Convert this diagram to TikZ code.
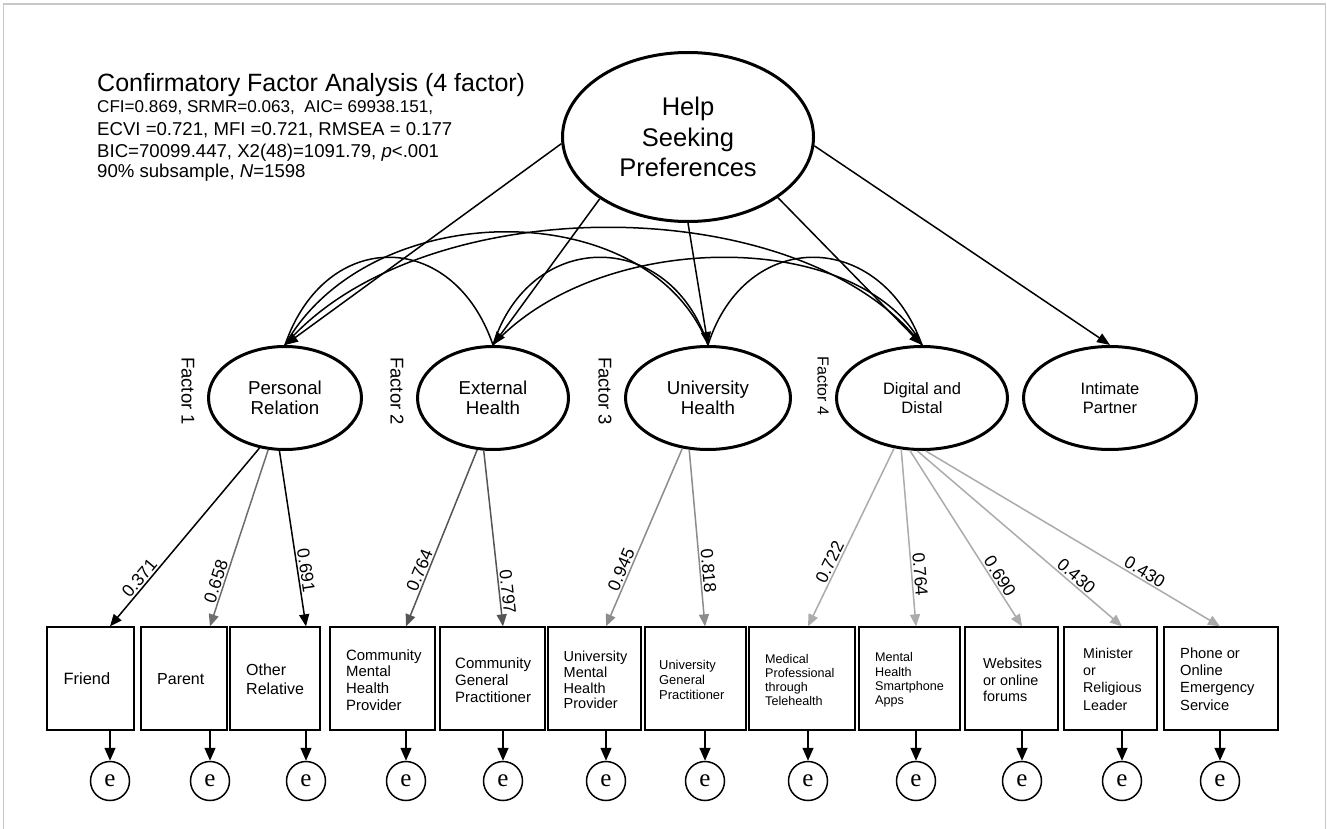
\documentclass[tikz,border=0pt]{standalone}
\usepackage{fontspec}
\setmainfont{Liberation Sans}
\newfontfamily\serifE{Liberation Serif}
\usetikzlibrary{arrows.meta,shapes.geometric}
\definecolor{frameg}{HTML}{C8C8C8}
\definecolor{ld1}{HTML}{6E6E6E}
\definecolor{ld2}{HTML}{555555}
\definecolor{ld3}{HTML}{8C8C8C}
\definecolor{ld4}{HTML}{ABABAB}
\newcommand{\fs}[2]{\fontsize{#1}{#2}\selectfont}
\tikzset{
  lat/.style={ellipse, draw, line width=3pt, inner sep=0pt, align=center},
  obsbox/.style={rectangle, draw, line width=1.3pt, minimum height=103pt, inner sep=0pt},
  boxtext/.style={anchor=west, align=left, inner sep=0pt},
  ecirc/.style={circle, draw, line width=1.5pt, minimum size=39pt, inner sep=0pt, font=\serifE\fs{25}{25}},
  path/.style={line width=1.5pt, -{Triangle[length=13pt,width=10pt]}},
  cov/.style={line width=1.5pt},
  load/.style={line width=1.5pt, -{Triangle[length=12pt,width=10pt]}},
  earr/.style={line width=1.5pt, -{Triangle[length=13pt,width=11pt]}},
  lab/.style={sloped, above, inner sep=1.5pt, font=\fs{17.5}{17.5}, text=black},
  factlab/.style={rotate=-90, inner sep=0pt},
  stat/.style={anchor=base west, inner sep=0pt}
}
\begin{document}
\begin{tikzpicture}[x=1pt,y=-1pt]
\useasboundingbox (0,0) rectangle (1327,829);
\draw[frameg, line width=1.2pt] (3.5,829) -- (3.5,4) -- (1325.5,4) -- (1325.5,829);

% title and statistics
\node[stat, font=\fs{25}{30}] (title) at (97,92) {Confirmatory Factor Analysis (4 factor)};
\node[stat, font=\fs{17.1}{20}] (s1) at (97,113) {CFI=0.869, SRMR=0.063,\ \ AIC= 69938.151,};
\node[stat, font=\fs{18.6}{20}] (s2) at (97,136) {ECVI =0.721, MFI =0.721, RMSEA = 0.177};
\node[stat, font=\fs{18.6}{20}] (s3) at (97,158) {BIC=70099.447, X2(48)=1091.79, \textit{p}<.001};
\node[stat, font=\fs{18.6}{20}] (s4) at (97,178) {90\% subsample, \textit{N}=1598};

% top latent
\node[lat, minimum width=251pt, minimum height=169pt, font=\fs{25.5}{30.5}] (help) at (688,137) {Help\\Seeking\\Preferences};

% factors
\node[lat, minimum width=153pt, minimum height=103pt, font=\fs{18.7}{20}] (pr) at (285,398) {Personal\\Relation};
\node[lat, minimum width=151pt, minimum height=103pt, font=\fs{18.7}{20}] (eh) at (493,398) {External\\Health};
\node[lat, minimum width=165pt, minimum height=103pt, font=\fs{18.7}{20}] (uh) at (708,398) {University\\Health};
\node[lat, minimum width=171pt, minimum height=103pt, font=\fs{16.5}{19}] (dd) at (922,398) {Digital and\\Distal};
\node[lat, minimum width=173pt, minimum height=103pt, font=\fs{16.5}{19}] (ip) at (1110,398) {Intimate\\Partner};

\node[factlab, font=\fs{18.5}{18.5}] (f1) at (188,391) {Factor 1};
\node[factlab, font=\fs{18.5}{18.5}] (f2) at (397,391) {Factor 2};
\node[factlab, font=\fs{18.5}{18.5}] (f3) at (605,391) {Factor 3};
\node[factlab, font=\fs{16}{16}] (f4) at (823,386) {Factor 4};

% covariances
\draw[cov] (pr.north) .. controls (325,228) and (453,228) .. (eh.north);
\draw[cov] (pr.north) .. controls (370,194) and (650,194) .. (uh.north);
\draw[cov] (pr.north) .. controls (420,188) and (800,188) .. (dd.north);
\draw[cov] (eh.north) .. controls (530,228) and (670,228) .. (uh.north);
\draw[cov] (eh.north) .. controls (600,228) and (860,228) .. (dd.north);
\draw[cov] (uh.north) .. controls (745,228) and (880,228) .. (dd.north);

% paths from help
\draw[path] (help.183.6) -- (pr.north);
\draw[path] (help.215) -- (eh.north);
\draw[path] (help.270) -- (uh.north);
\draw[path] (help.326) -- (dd.north);
\draw[path] (help.356.4) -- (ip.north);

% observed boxes
\node[obsbox, minimum width=87pt] (b1) at (90.5,678.5) {};
\node[obsbox, minimum width=86pt] (b2) at (184,678.5) {};
\node[obsbox, minimum width=90pt] (b3) at (275,678.5) {};
\node[obsbox, minimum width=105pt] (b4) at (382.5,678.5) {};
\node[obsbox, minimum width=105pt] (b5) at (492.5,678.5) {};
\node[obsbox, minimum width=93pt] (b6) at (594.5,678.5) {};
\node[obsbox, minimum width=101pt] (b7) at (695.5,678.5) {};
\node[obsbox, minimum width=106pt] (b8) at (802,678.5) {};
\node[obsbox, minimum width=101pt] (b9) at (909.5,678.5) {};
\node[obsbox, minimum width=93pt] (b10) at (1011.5,678.5) {};
\node[obsbox, minimum width=93pt] (b11) at (1110.5,678.5) {};
\node[obsbox, minimum width=114pt] (b12) at (1221,678.5) {};

\node[boxtext, font=\fs{16.4}{19}] (t1) at (63.5,679) {Friend};
\node[boxtext, font=\fs{16}{19}] (t2) at (157,679) {Parent};
\node[boxtext, font=\fs{16}{19}] (t3) at (246,679) {Other\\Relative};
\node[boxtext, font=\fs{14.9}{16.7}] (t4) at (346,680) {Community\\Mental\\Health\\Provider};
\node[boxtext, font=\fs{15}{17}] (t5) at (455,680) {Community\\General\\Practitioner};
\node[boxtext, font=\fs{14.5}{15.7}] (t6) at (563.5,680) {University\\Mental\\Health\\Provider};
\node[boxtext, font=\fs{12.9}{15}] (t7) at (659,680) {University\\General\\Practitioner};
\node[boxtext, font=\fs{12.6}{14.3}] (t8) at (765,680) {Medical\\Professional\\through\\Telehealth};
\node[boxtext, font=\fs{12.6}{14.3}] (t9) at (875,680) {Mental\\Health\\Smartphone\\Apps};
\node[boxtext, font=\fs{14.4}{16.5}] (t10) at (983,680) {Websites\\or online\\forums};
\node[boxtext, font=\fs{14.2}{17.3}] (t11) at (1083,679) {Minister\\or\\Religious\\Leader};
\node[boxtext, font=\fs{14.7}{17.3}] (t12) at (1180,679) {Phone or\\Online\\Emergency\\Service};

% error terms
\node[ecirc] (e1) at (110,781) {e};
\node[ecirc] (e2) at (210,781) {e};
\node[ecirc] (e3) at (306,781) {e};
\node[ecirc] (e4) at (406,781) {e};
\node[ecirc] (e5) at (503,781) {e};
\node[ecirc] (e6) at (606,781) {e};
\node[ecirc] (e7) at (705,781) {e};
\node[ecirc] (e8) at (808,781) {e};
\node[ecirc] (e9) at (916,781) {e};
\node[ecirc] (e10) at (1022,781) {e};
\node[ecirc] (e11) at (1122,781) {e};
\node[ecirc] (e12) at (1220,781) {e};

\foreach \i in {1,...,12}{
  \draw[earr] (b\i.south -| e\i) -- (e\i);
}

% loadings
\draw[load, black] (pr.243.5) -- (b1.north -| e1) node[lab, pos=.76] {0.371};
\draw[load, ld1] (pr.252.9) -- (b2.north -| e2) node[lab, pos=.76] {0.658};
\draw[load, black] (pr.264.6) -- (b3.north -| e3) node[lab, pos=.69] {0.691};
\draw[load, ld2] (eh.253.9) -- (b4.north -| e4) node[lab, pos=.70] {0.764};
\draw[load, ld2] (eh.260.3) -- (b5.north -| e5) node[lab, pos=.81] {0.797};
\draw[load, ld3] (uh.243.7) -- (b6.north -| e6) node[lab, pos=.70] {0.945};
\draw[load, ld3] (uh.250.8) -- (b7.north -| e7) node[lab, pos=.69] {0.818};
\draw[load, ld4] (dd.241.8) -- (b8.north -| e8) node[lab, pos=.66] {0.722};
\draw[load, ld4] (dd.248.8) -- (b9.north -| e9) node[lab, pos=.71] {0.764};
\draw[load, ld4] (dd.257.1) -- (b10.north -| e10) node[lab, pos=.74] {0.690};
\draw[load, ld4] (dd.265.7) -- (b11.north -| e11) node[lab, pos=.75] {0.430};
\draw[load, ld4] (dd.274.3) -- (b12.north -| e12) node[lab, pos=.73] {0.430};
\end{tikzpicture}
\end{document}
